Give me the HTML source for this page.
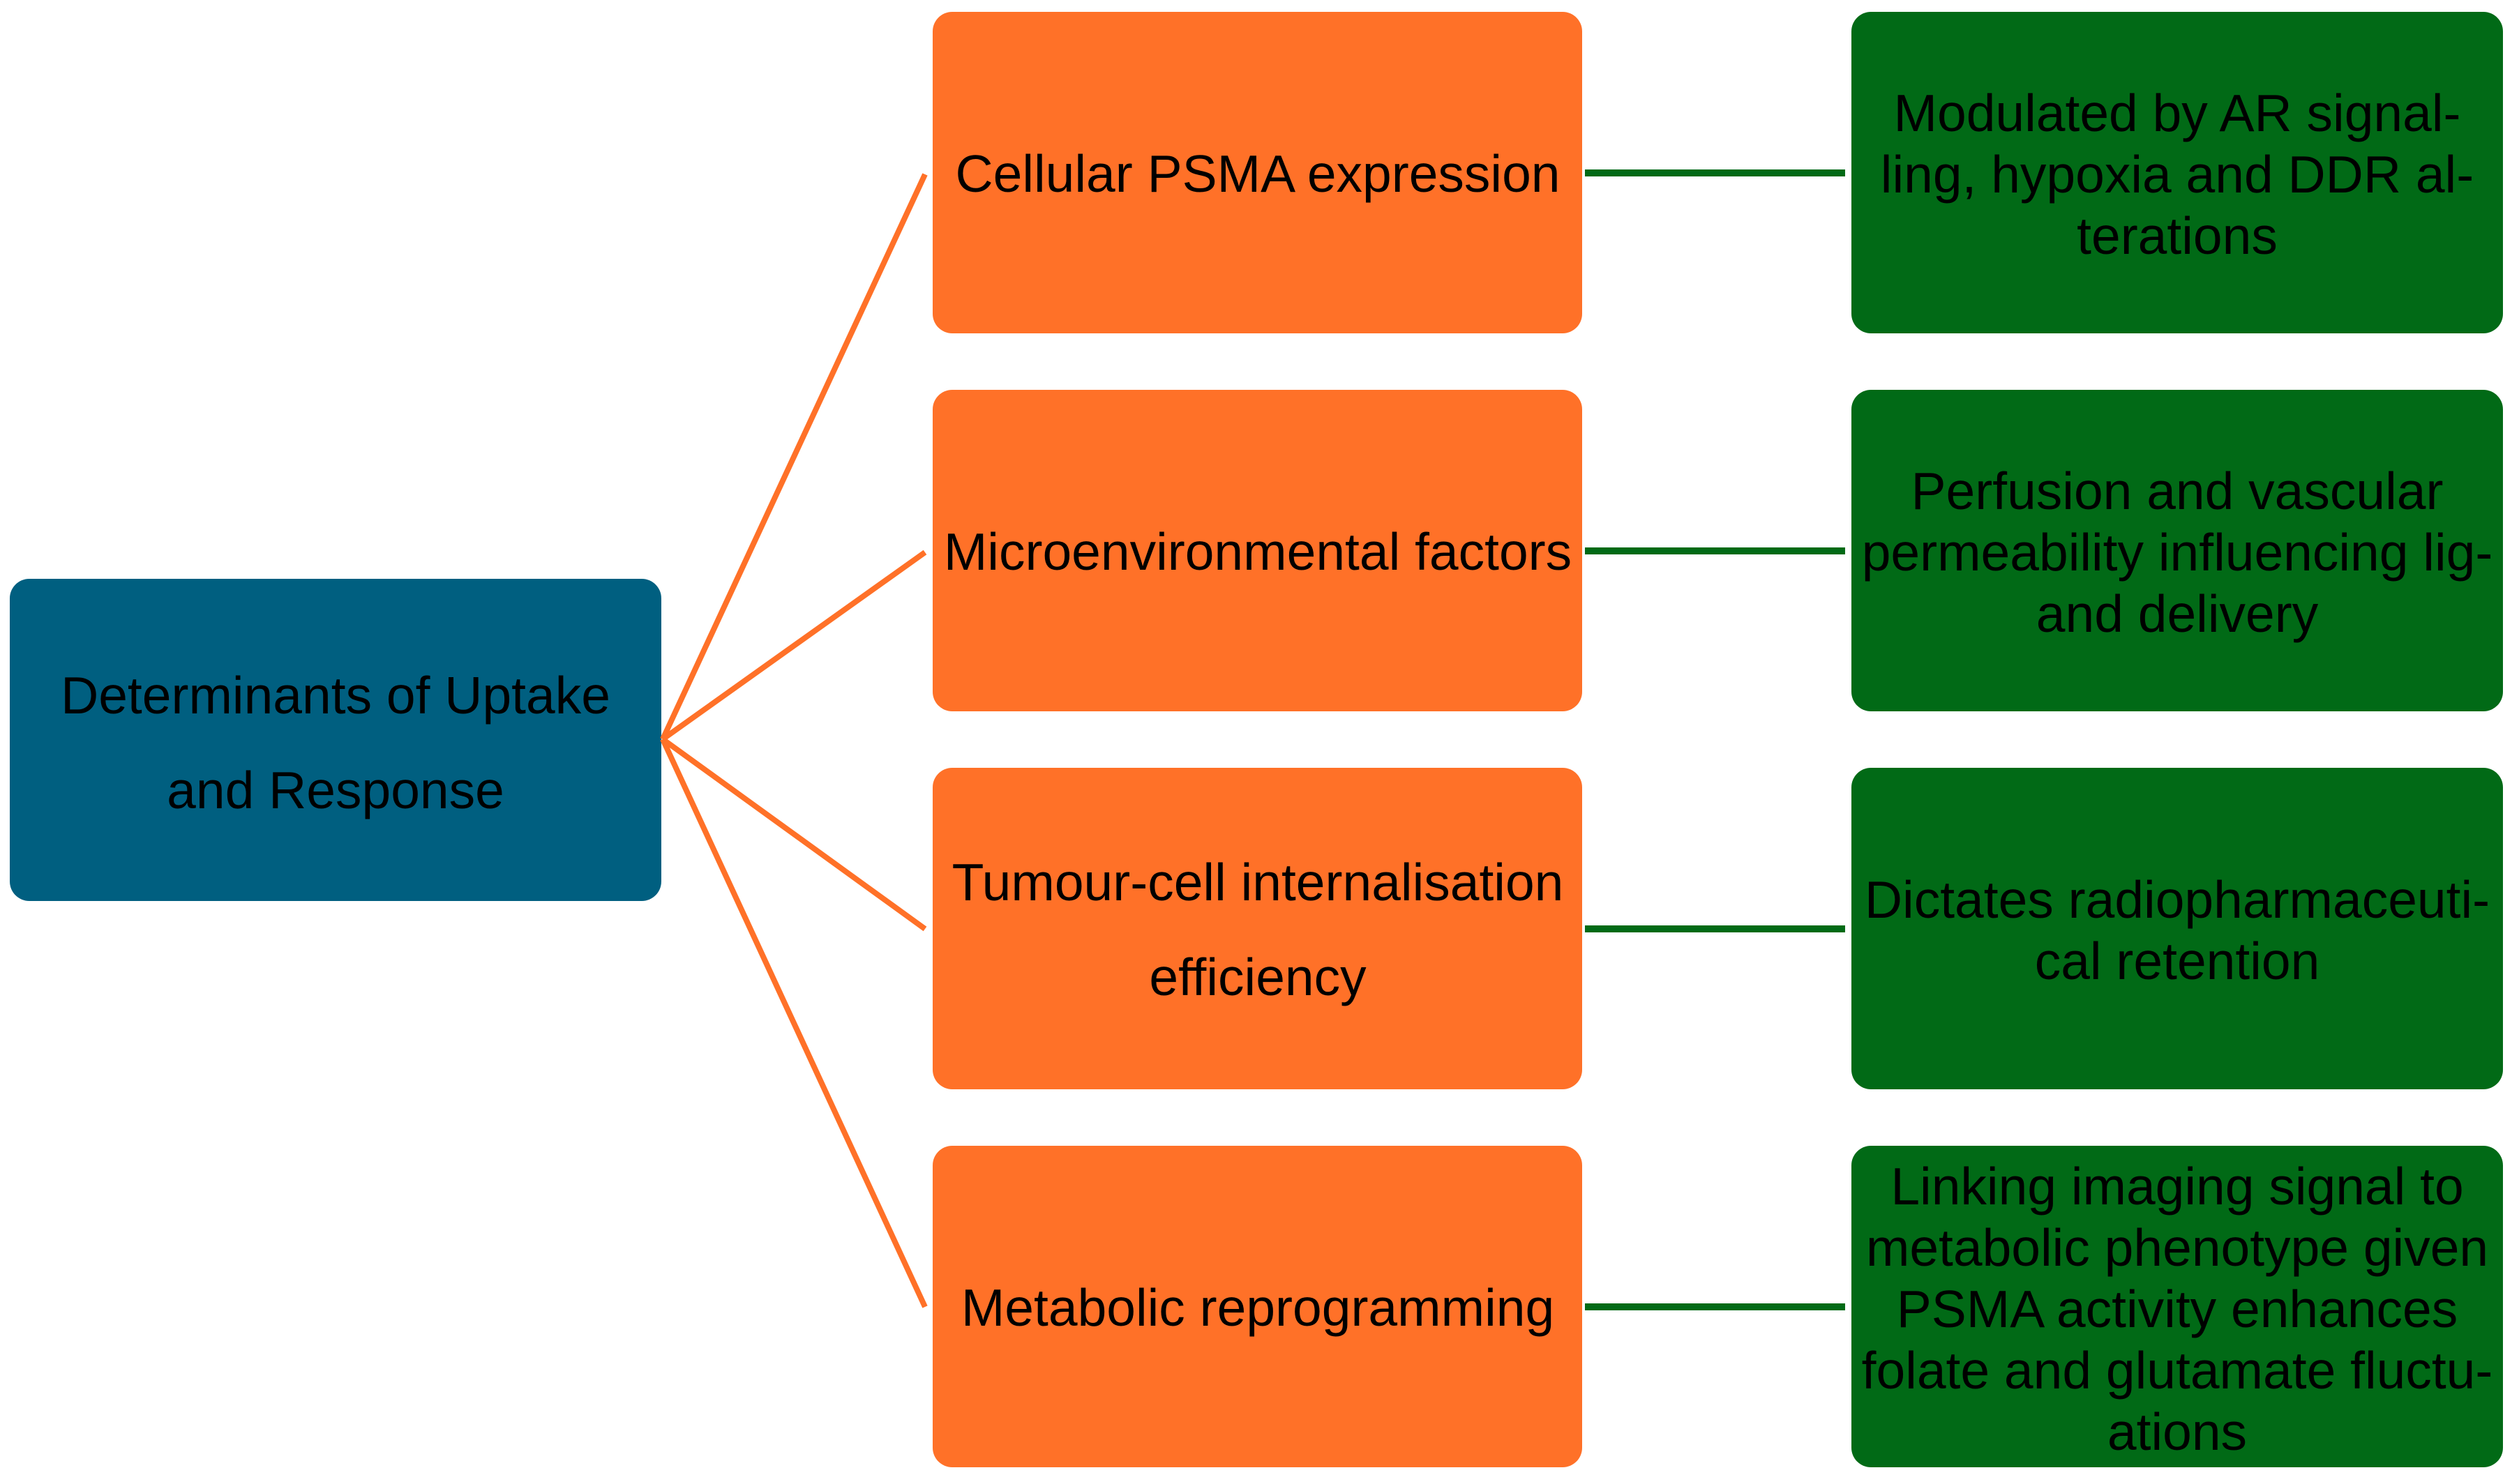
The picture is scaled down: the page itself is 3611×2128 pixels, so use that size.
<!DOCTYPE html>
<html><head><meta charset="utf-8"><style>
html,body{margin:0;padding:0;background:#fff;width:3611px;height:2128px;overflow:hidden}
text{font-family:"Liberation Sans",Arial,sans-serif;font-size:75px;fill:#000;text-anchor:middle}
</style></head><body>
<svg width="3611" height="2128" viewBox="0 0 3611 2128" xmlns="http://www.w3.org/2000/svg">
<rect x="14" y="830" width="934" height="462" rx="28" fill="#005f80"/>
<g stroke="#ff7128" stroke-width="8" fill="none">
<line x1="950" y1="1060" x2="1326" y2="250"/>
<line x1="950" y1="1060" x2="1326" y2="792"/>
<line x1="950" y1="1060" x2="1326" y2="1332"/>
<line x1="950" y1="1060" x2="1326" y2="1874"/>
</g>
<g fill="#ff7128">
<rect x="1337" y="17" width="931" height="461" rx="28"/>
<rect x="1337" y="559" width="931" height="461" rx="28"/>
<rect x="1337" y="1101" width="931" height="461" rx="28"/>
<rect x="1337" y="1643" width="931" height="461" rx="28"/>
</g>
<g fill="#016a16">
<rect x="2654" y="17" width="934" height="461" rx="28"/>
<rect x="2654" y="559" width="934" height="461" rx="28"/>
<rect x="2654" y="1101" width="934" height="461" rx="28"/>
<rect x="2654" y="1643" width="934" height="461" rx="28"/>
</g>
<g stroke="#016a16" stroke-width="10">
<line x1="2272" y1="248" x2="2645" y2="248"/>
<line x1="2272" y1="790" x2="2645" y2="790"/>
<line x1="2272" y1="1332" x2="2645" y2="1332"/>
<line x1="2272" y1="1874" x2="2645" y2="1874"/>
</g>
<text x="481" y="1023">Determinants of Uptake</text>
<text x="481" y="1159">and Response</text>
<text x="1803" y="275">Cellular PSMA expression</text>
<text x="1803" y="817">Microenvironmental factors</text>
<text x="1803" y="1291">Tumour-cell internalisation</text>
<text x="1803" y="1427">efficiency</text>
<text x="1803" y="1901">Metabolic reprogramming</text>
<text x="3121" y="188">Modulated by AR signal-</text>
<text x="3121" y="276">ling, hypoxia and DDR al-</text>
<text x="3121" y="364">terations</text>
<text x="3121" y="730">Perfusion and vascular</text>
<text x="3121" y="818">permeability influencing lig-</text>
<text x="3121" y="906">and delivery</text>
<text x="3121" y="1316">Dictates radiopharmaceuti-</text>
<text x="3121" y="1404">cal retention</text>
<text x="3121" y="1727">Linking imaging signal to</text>
<text x="3121" y="1815">metabolic phenotype given</text>
<text x="3121" y="1903">PSMA activity enhances</text>
<text x="3121" y="1991">folate and glutamate fluctu-</text>
<text x="3121" y="2079">ations</text>
</svg>
</body></html>
